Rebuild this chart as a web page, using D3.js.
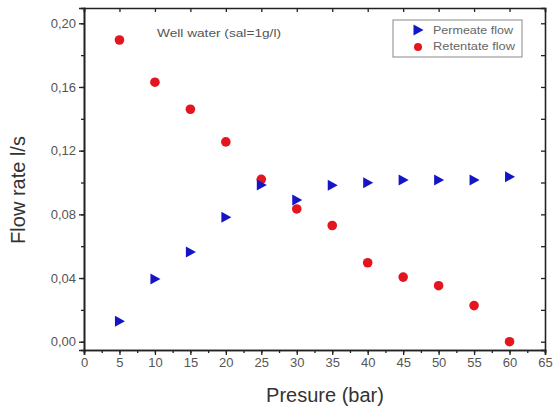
<html>
<head>
<script src="https://cdn.jsdelivr.net/npm/d3@7"></script>
<style>
  body { margin: 0; background: #fff; }
  text { font-family: Arial, "Liberation Sans", sans-serif; }
</style>
</head>
<body>
<svg width="556" height="410"></svg>
<script>
var pressure = [5, 10, 15, 20, 25, 30, 35, 40, 45, 50, 55, 60]
var permeate = [0.0128, 0.0394, 0.0563, 0.0782, 0.0985, 0.0890, 0.0982, 0.0998, 0.1016, 0.1016, 0.1016, 0.1036]
var retentate = [0.1895, 0.1630, 0.1460, 0.1255, 0.1020, 0.0834, 0.0730, 0.0496, 0.0406, 0.0352, 0.0227, 0.0000]
var xTicks = [0, 5, 10, 15, 20, 25, 30, 35, 40, 45, 50, 55, 60, 65]
var yTicks = [0, 0.04, 0.08, 0.12, 0.16, 0.20]
var seriesNames = ['Permeate flow', 'Retentate flow']

var svg = d3.select('svg')
var pLeft = 84, pRight = 545, pTop = 8, pBottom = 350

var x = d3.scaleLinear().domain([0, 65]).range([pLeft, pRight])
var y = d3.scaleLinear().domain([-0.0052, 0.2096]).range([pBottom, pTop])

var fmt = function(d){ return d3.format('.2f')(d).replace('.', ',') }
var minorX = d3.range(0, 65.1, 2.5)
var minorY = d3.range(0, 0.2096, 0.02)

// bottom axis
var gx = svg.append('g').attr('transform', 'translate(0,' + pBottom + ')')
gx.append('g').call(d3.axisBottom(x).tickValues(minorX).tickSize(3).tickFormat(''))
gx.append('g').call(d3.axisBottom(x).tickValues(xTicks).tickSize(5).tickPadding(3).tickFormat(d3.format('d')))
// left axis
var gy = svg.append('g').attr('transform', 'translate(' + pLeft + ',0)')
gy.append('g').call(d3.axisLeft(y).tickValues(minorY).tickSize(3).tickFormat(''))
gy.append('g').call(d3.axisLeft(y).tickValues(yTicks).tickSize(5).tickPadding(3).tickFormat(fmt))
// top and right, ticks inward
svg.append('g').attr('transform', 'translate(0,' + pTop + ')')
    .call(d3.axisTop(x).tickValues(xTicks).tickSize(-4).tickFormat(''))
svg.append('g').attr('transform', 'translate(' + pRight + ',0)')
    .call(d3.axisRight(y).tickValues(minorY).tickSize(-4).tickFormat(''))

svg.selectAll('.domain').attr('stroke', '#222').attr('stroke-width', 1.6)
svg.selectAll('.tick line').attr('stroke', '#222').attr('stroke-width', 1.3)
svg.selectAll('.tick text').attr('font-size', 13).attr('fill', '#555')

svg.append('text').attr('x', 325).attr('y', 402).attr('text-anchor', 'middle')
    .attr('font-size', 20).attr('fill', '#333').text('Presure (bar)')
svg.append('text').attr('transform', 'translate(25,190) rotate(-90)')
    .attr('text-anchor', 'middle').attr('font-size', 20).attr('fill', '#333').text('Flow rate l/s')

svg.append('text').attr('x', 157).attr('y', 37).attr('font-size', 10).attr('fill', '#555')
    .attr('textLength', 124).attr('lengthAdjust', 'spacingAndGlyphs')
    .text('Well water (sal=1g/l)')

var triangle = function(cx, cy){
    return 'M' + (cx - 4.5) + ',' + (cy - 5.5) + 'L' + (cx + 5.5) + ',' + cy + 'L' + (cx - 4.5) + ',' + (cy + 5.5) + 'Z'
}

svg.selectAll('circle.ret')
    .data(retentate)
    .enter()
    .append('circle')
    .attr('class', 'ret')
    .attr('cx', function(d, i){ return x(pressure[i]) })
    .attr('cy', function(d){ return y(d) })
    .attr('r', 4.8)
    .attr('fill', '#e3151f')

svg.selectAll('path.perm')
    .data(permeate)
    .enter()
    .append('path')
    .attr('class', 'perm')
    .attr('d', function(d, i){ return triangle(x(pressure[i]), y(d)) })
    .attr('fill', '#1515c8')

// legend
var lg = svg.append('g')
lg.append('rect').attr('x', 393).attr('y', 20).attr('width', 129).attr('height', 37)
    .attr('fill', 'none').attr('stroke', '#888').attr('stroke-width', 1)
lg.append('path').attr('d', triangle(418, 30)).attr('fill', '#1515c8')
lg.append('circle').attr('cx', 418).attr('cy', 47).attr('r', 4).attr('fill', '#e3151f')
lg.selectAll('text.lg')
    .data(seriesNames)
    .enter()
    .append('text')
    .attr('class', 'lg')
    .attr('x', 433)
    .attr('y', function(d, i){ return 33.5 + i * 16 })
    .attr('font-size', 10)
    .attr('fill', '#666')
    .attr('textLength', function(d, i){ return i ? 82 : 80 })
    .attr('lengthAdjust', 'spacingAndGlyphs')
    .text(function(d){ return d })
</script>
</body>
</html>
